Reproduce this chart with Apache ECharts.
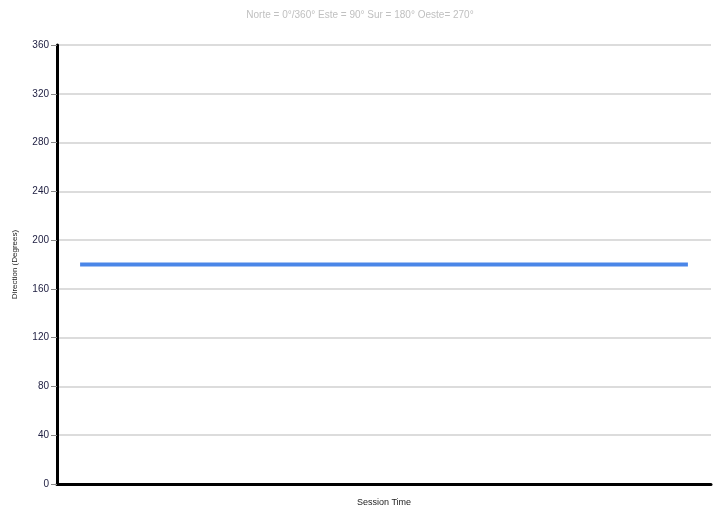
<!DOCTYPE html>
<html><head><meta charset="utf-8">
<script src="https://cdn.jsdelivr.net/npm/echarts@6/dist/echarts.min.js"></script>
<style>html,body{margin:0;padding:0;background:#fff}#c{width:721px;height:508px}</style>
</head><body><div id="c"></div>
<script>
var titleText = 'Norte = 0°/360° Este = 90° Sur = 180° Oeste= 270°';
var sessionIndex = [0,1,2,3,4,5,6,7,8,9,10,11,12,13,14,15,16,17,18,19,20,21,22,23,24,25];
var direction = [180,180,180,180,180,180,180,180,180,180,180,180,180,180,180,180,180,180,180,180,180,180,180,180,180,180];
var yTicks = [0,40,80,120,160,200,240,280,320,360];

var chart = echarts.init(document.getElementById('c'));
chart.setOption({
  animation: false,
  title: {text: titleText, left: 355, top: 5, textAlign: 'center',
    textStyle: {color: '#c0c0c0', fontSize: 10, fontWeight: 'normal', fontFamily: 'Arial'}},
  grid: {left: 57, right: 10, top: 45, bottom: 24, outerBoundsMode: 'none', containLabel: false},
  xAxis: {type: 'value', min: -0.95, max: 25.95,
    name: 'Session Time', nameLocation: 'middle', nameGap: 14,
    nameTextStyle: {fontSize: 9, color: '#222', fontFamily: 'Arial'},
    axisLine: {show: true, onZero: false, lineStyle: {color: '#000', width: 3}},
    axisTick: {show: false}, axisLabel: {show: false}, splitLine: {show: false}},
  yAxis: {type: 'value', min: 0, max: 360, interval: 40,
    name: 'Direction (Degrees)', nameLocation: 'middle', nameGap: 38,
    nameTextStyle: {fontSize: 8, color: '#222', fontFamily: 'Arial'},
    axisLine: {show: true, onZero: false, lineStyle: {color: '#000', width: 3}},
    axisTick: {show: true, length: 6, lineStyle: {color: '#888', width: 1}},
    axisLabel: {color: '#222244', fontSize: 10, fontFamily: 'Arial', margin: 8},
    splitLine: {show: true, lineStyle: {color: '#dcdcdc', width: 2}}},
  series: [{type: 'line', data: sessionIndex.map(function(x,i){return [x, direction[i]];}),
    showSymbol: false, lineStyle: {color: '#4a86e8', width: 4}}]
});
</script></body></html>
